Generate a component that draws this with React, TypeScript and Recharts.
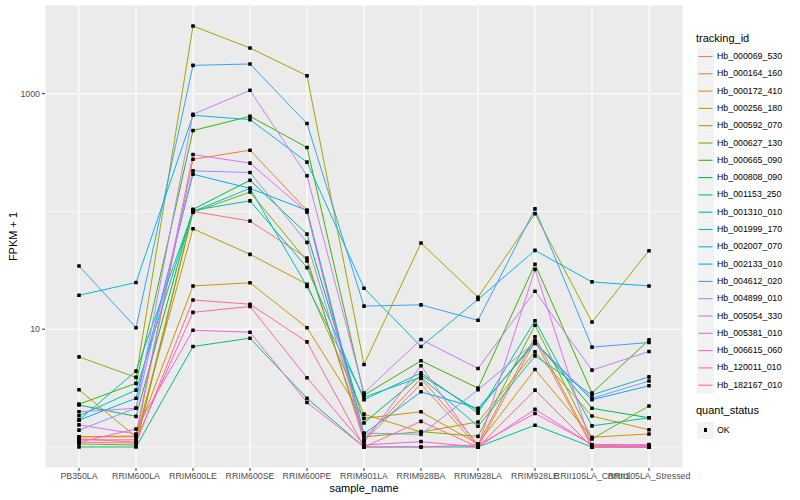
import { CartesianGrid, Line, LineChart, XAxis, YAxis } from "recharts";

const sampleNames = [
  "PB350LA",
  "RRIM600LA",
  "RRIM600LE",
  "RRIM600SE",
  "RRIM600PE",
  "RRIM901LA",
  "RRIM928BA",
  "RRIM928LA",
  "RRIM928LE",
  "RRII105LA_Control",
  "RRII105LA_Stressed"
];

const trackingIds = [
  "Hb_000069_530",
  "Hb_000164_160",
  "Hb_000172_410",
  "Hb_000256_180",
  "Hb_000592_070",
  "Hb_000627_130",
  "Hb_000665_090",
  "Hb_000808_090",
  "Hb_001153_250",
  "Hb_001310_010",
  "Hb_001999_170",
  "Hb_002007_070",
  "Hb_002133_010",
  "Hb_004612_020",
  "Hb_004899_010",
  "Hb_005054_330",
  "Hb_005381_010",
  "Hb_006615_060",
  "Hb_120011_010",
  "Hb_182167_010"
];

// FPKM + 1 per sample, same order as sampleNames
const hb000069_530 = [1.17, 1.1, 100, 82.8, 40.2, 1.12, 3.42, 1.0, 7.91, 1.0, 1.0];
const hb000164_160 = [1.22, 1.22, 277, 331, 102, 1.17, 3.82, 1.06, 8.61, 1.04, 1.0];
const hb000172_410 = [1.22, 1.24, 23.3, 24.8, 10.3, 1.75, 1.99, 1.06, 4.55, 1.21, 1.29];
const hb000256_180 = [3.06, 1.22, 71.3, 43.2, 24.1, 1.9, 1.34, 1.63, 6.42, 1.83, 1.4];
const hb000592_070 = [5.82, 3.9, 3750, 2440, 1420, 5.02, 53.9, 18.7, 95.6, 11.5, 46.4];
const hb000627_130 = [1.06, 1.04, 98.1, 146, 37.9, 1.22, 1.35, 1.23, 10.8, 1.17, 2.23];
const hb000665_090 = [2.31, 3.47, 486, 642, 349, 2.76, 5.39, 3.16, 35.6, 2.87, 8.11];
const hb000808_090 = [2.27, 1.82, 104, 184, 64.2, 1.6, 4.07, 2.03, 7.96, 2.13, 1.77];
const hb001153_250 = [1.0, 1.0, 7.13, 8.39, 2.59, 1.0, 1.0, 1.0, 1.53, 1.0, 1.0];
const hb001310_010 = [1.84, 3.04, 102, 123, 33.3, 2.52, 4.26, 1.94, 11.8, 1.51, 1.77];
const hb001999_170 = [1.69, 4.41, 100, 157, 23.1, 2.65, 3.92, 1.5, 5.94, 2.77, 3.94];
const hb002007_070 = [19.4, 24.9, 655, 602, 262, 22.3, 7.13, 17.9, 46.7, 25.2, 23.3];
const hb002133_010 = [1.69, 2.59, 207, 157, 102, 1.29, 2.94, 2.13, 7.56, 2.52, 3.31];
const hb004612_020 = [34.4, 10.3, 1738, 1786, 557, 15.7, 16.1, 11.9, 105, 7.04, 7.71];
const hb004899_010 = [1.39, 2.14, 221, 214, 54.6, 1.31, 1.28, 3.06, 7.76, 2.59, 3.63];
const hb005054_330 = [1.99, 2.13, 668, 1067, 201, 2.87, 8.18, 4.64, 21.0, 4.49, 6.47];
const hb005381_010 = [1.54, 1.29, 304, 257, 98.6, 1.1, 4.89, 1.0, 32.2, 1.0, 1.0];
const hb006615_060 = [1.1, 1.42, 9.81, 9.43, 2.39, 1.0, 1.0, 1.04, 1.93, 1.05, 1.05];
const hb120011_010 = [1.15, 1.15, 13.9, 15.6, 3.87, 1.04, 1.11, 1.0, 2.09, 1.04, 1.03];
const hb182167_010 = [1.1, 1.08, 17.7, 16.3, 7.8, 1.0, 1.65, 1.0, 3.04, 1.0, 1.0];

const seriesValues = [
  hb000069_530, hb000164_160, hb000172_410, hb000256_180, hb000592_070,
  hb000627_130, hb000665_090, hb000808_090, hb001153_250, hb001310_010,
  hb001999_170, hb002007_070, hb002133_010, hb004612_020, hb004899_010,
  hb005054_330, hb005381_010, hb006615_060, hb120011_010, hb182167_010
];

const yTicks = [10, 1000];
const minorTicks = [1, 100];

// ggplot hue palette, 20 levels
const palette = [
  "#F8766D", "#EA8331", "#D89000", "#C09B00", "#A3A500",
  "#7CAE00", "#39B600", "#00BB4E", "#00BF7D", "#00C1A3",
  "#00BFC4", "#00BAE0", "#00B0F6", "#35A2FF", "#9590FF",
  "#C77CFF", "#E76BF3", "#FA62DB", "#FF62BC", "#FF6C91"
];

const FONT = '"Liberation Sans", Arial, sans-serif';

const chartData = sampleNames.map((name, i) => {
  const row: Record<string, string | number> = { sample_name: name };
  trackingIds.forEach((id, s) => {
    row[id] = seriesValues[s][i];
  });
  return row;
});

const renderDot = (props: any) => {
  const { cx, cy, index, dataKey } = props;
  if (cx == null || cy == null) return <g key={`${dataKey}-${index}`} />;
  return (
    <rect
      key={`${dataKey}-${index}`}
      x={cx - 1.8}
      y={cy - 1.8}
      width={3.6}
      height={3.6}
      rx={0.6}
      fill="#000"
    />
  );
};

// legend keys drawn in svg so the thin lines anti-alias evenly
const Legend = () => (
  <div style={{ position: "absolute", left: 0, top: 0, fontFamily: FONT, color: "#000" }}>
    <div style={{ position: "absolute", left: 696, top: 32, fontSize: 11, whiteSpace: "nowrap" }}>
      tracking_id
    </div>
    <svg
      width={20}
      height={400}
      style={{ position: "absolute", left: 697, top: 48 }}
    >
      {trackingIds.map((id, i) => {
        const y = i * 17.3;
        return (
          <g key={id}>
            <rect x={0} y={y} width={17} height={17} fill="#F2F2F2" />
            <line x1={1.5} x2={15.5} y1={y + 8.5} y2={y + 8.5} stroke={palette[i]} strokeWidth={1.1} />
          </g>
        );
      })}
    </svg>
    {trackingIds.map((id, i) => (
      <div
        key={id}
        style={{
          position: "absolute",
          left: 717,
          top: 51 + i * 17.3,
          fontSize: 8.8,
          lineHeight: "11px",
          whiteSpace: "nowrap"
        }}
      >
        {id}
      </div>
    ))}
    <div style={{ position: "absolute", left: 696, top: 404, fontSize: 11, whiteSpace: "nowrap" }}>
      quant_status
    </div>
    <div
      style={{ position: "absolute", left: 697, top: 421.5, width: 17, height: 17, background: "#F2F2F2" }}
    >
      <div
        style={{ position: "absolute", left: 6.7, top: 6.7, width: 3.6, height: 3.6, background: "#000" }}
      />
    </div>
    <div style={{ position: "absolute", left: 717, top: 424.5, fontSize: 8.8, lineHeight: "11px" }}>OK</div>
  </div>
);

const App = () => {
  return (
    <div
      style={{
        position: "fixed",
        left: 0,
        top: 0,
        width: 800,
        height: 500,
        background: "#FFFFFF",
        fontFamily: FONT
      }}
    >
      <LineChart
        width={800}
        height={500}
        data={chartData}
        margin={{ top: 5, right: 117, bottom: 0, left: 0 }}
      >
        <CartesianGrid fill="#EBEBEB" fillOpacity={1} stroke="#FFFFFF" strokeWidth={1.1} />
        <CartesianGrid
          horizontalValues={minorTicks}
          vertical={false}
          stroke="#FFFFFF"
          strokeWidth={0.55}
        />
        <XAxis
          dataKey="sample_name"
          height={32}
          interval={0}
          padding={{ left: 34, right: 34 }}
          axisLine={false}
          tickLine={{ stroke: "#333333" }}
          tickSize={3}
          tickMargin={2}
          tick={{ fill: "#4D4D4D", fontSize: 8.8, fontFamily: FONT }}
          label={{
            content: () => (
              <text x={364} y={492} textAnchor="middle" fontSize={11} fontFamily={FONT} fill="#000">
                sample_name
              </text>
            )
          }}
        />
        <YAxis
          type="number"
          scale="log"
          domain={[0.663, 5657]}
          allowDataOverflow
          ticks={yTicks}
          width={45}
          axisLine={false}
          tickLine={{ stroke: "#333333" }}
          tickSize={3}
          tickMargin={2}
          tick={{ fill: "#4D4D4D", fontSize: 8.8, fontFamily: FONT }}
          label={{
            content: () => (
              <text
                x={13}
                y={236.5}
                transform="rotate(-90 13 236.5)"
                textAnchor="middle"
                dominantBaseline="central"
                fontSize={11}
                fontFamily={FONT}
                fill="#000"
              >
                FPKM + 1
              </text>
            )
          }}
        />
        {trackingIds.map((id, i) => (
          <Line
            key={id}
            type="linear"
            dataKey={id}
            stroke={palette[i]}
            strokeWidth={1}
            dot={false}
            activeDot={false}
            isAnimationActive={false}
          />
        ))}
        {trackingIds.map((id) => (
          <Line
            key={`${id}-pts`}
            type="linear"
            dataKey={id}
            stroke="none"
            dot={renderDot}
            activeDot={false}
            legendType="none"
            isAnimationActive={false}
          />
        ))}
      </LineChart>
      <Legend />
    </div>
  );
};

export default App;
